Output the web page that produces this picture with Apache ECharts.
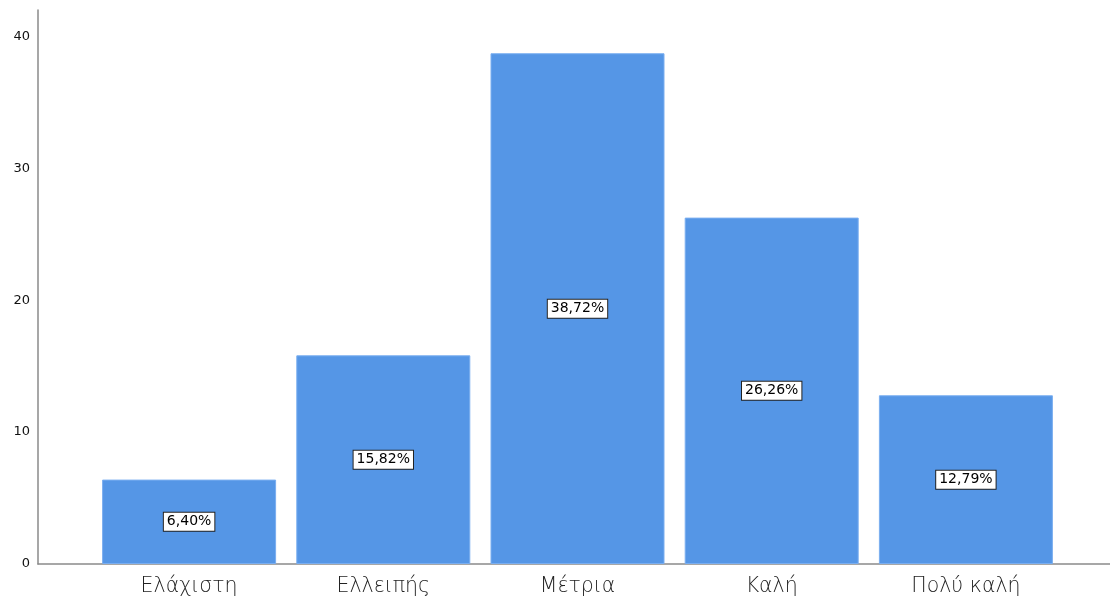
<!DOCTYPE html>
<html>
<head>
<meta charset="utf-8">
<script src="https://cdn.jsdelivr.net/npm/echarts@6/dist/echarts.min.js"></script>
<style>
html,body{margin:0;padding:0;background:#fff;}
#chart{width:1110px;height:599px;}
</style>
</head>
<body>
<div id="chart"></div>
<script>
const categories = ['Ελάχιστη', 'Ελλειπής', 'Μέτρια', 'Καλή', 'Πολύ καλή'];
const percentValues = [6.40, 15.82, 38.72, 26.26, 12.79];
const yTicks = [0, 10, 20, 30, 40];

const chart = echarts.init(document.getElementById('chart'), null, {renderer: 'canvas'});
const TOP = 10, BOTTOM = 35, YMAX = 42;
chart.setOption({
  animation: false,
  backgroundColor: '#ffffff',
  grid: [
    {left: 92, right: 47, top: TOP, bottom: BOTTOM, containLabel: false},
    {left: 38, right: 0, top: TOP, bottom: BOTTOM, containLabel: false}
  ],
  xAxis: [
    {
      type: 'category', gridIndex: 0, data: categories,
      axisLine: {show: false}, axisTick: {show: false},
      axisLabel: {fontFamily: 'DejaVu Sans', fontWeight: 200, fontSize: 20.5, color: '#222', margin: 12}
    },
    {
      type: 'value', gridIndex: 1, min: 0, max: 1,
      axisLine: {show: true, onZero: false, lineStyle: {color: '#8a8a8a', width: 1.5}},
      axisTick: {show: false}, axisLabel: {show: false}, splitLine: {show: false}
    }
  ],
  yAxis: [
    {
      type: 'value', gridIndex: 0, min: 0, max: YMAX, interval: 10,
      axisLine: {show: false}, axisTick: {show: false}, axisLabel: {show: false}, splitLine: {show: false}
    },
    {
      type: 'value', gridIndex: 1, min: 0, max: YMAX, interval: 10,
      axisLine: {show: true, lineStyle: {color: '#8a8a8a', width: 1.5}},
      axisTick: {show: false}, splitLine: {show: false},
      axisLabel: {
        fontFamily: 'DejaVu Sans', fontSize: 13, color: '#111', margin: 8,
        formatter: v => (yTicks.indexOf(v) >= 0 ? String(v) : '')
      }
    }
  ],
  series: [{
    type: 'bar', xAxisIndex: 0, yAxisIndex: 0,
    data: percentValues,
    barWidth: 174,
    itemStyle: {color: '#5596e6', borderColor: '#7aaef0', borderWidth: 1},
    label: {
      show: true, position: 'inside',
      formatter: p => p.value.toFixed(2).replace('.', ',') + '%',
      fontFamily: 'DejaVu Sans', fontSize: 14, color: '#000',
      backgroundColor: '#fff', borderColor: '#222', borderWidth: 1,
      padding: [2, 3, 2, 3]
    }
  }]
});
</script>
</body>
</html>
